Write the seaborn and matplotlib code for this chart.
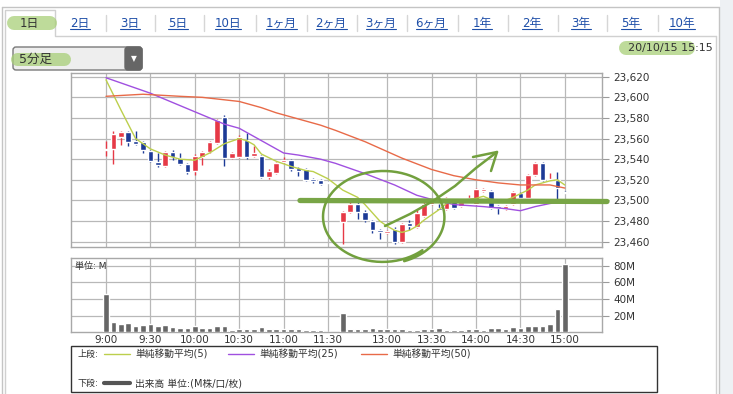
import numpy as np
import pandas as pd
import seaborn as sns
import matplotlib.pyplot as plt
from matplotlib.patches import Rectangle, FancyBboxPatch
from matplotlib.ticker import FuncFormatter

# 5分足 slots: 0 = 9:00 ... 30 = 11:30, (31 = lunch gap), 32 = 12:30 ... 62 = 15:00
slots = list(range(0, 31)) + list(range(32, 63))

opens = [23549, 23550, 23562, 23566, 23558, 23557, 23548, 23537, 23533, 23547,
         23541, 23535, 23529, 23542, 23547, 23556, 23581, 23541, 23542, 23559,
         23543, 23543, 23523, 23527, 23537, 23539, 23531, 23530, 23521, 23520, 23517,
         23479, 23489, 23497, 23489, 23480, 23471, 23468, 23472, 23460, 23478,
         23474, 23485, 23497, 23493, 23492, 23499, 23495, 23500, 23497, 23509,
         23509, 23495, 23492, 23497, 23507, 23502, 23525, 23536, 23520, 23520, 23508]
highs = [23558, 23567, 23567, 23567, 23567, 23558, 23549, 23546, 23548, 23549,
         23546, 23536, 23545, 23548, 23558, 23579, 23583, 23547, 23563, 23565,
         23553, 23544, 23530, 23537, 23542, 23540, 23532, 23531, 23522, 23521, 23518,
         23490, 23498, 23498, 23491, 23481, 23472, 23471, 23474, 23478, 23481,
         23491, 23498, 23501, 23497, 23503, 23500, 23499, 23505, 23512, 23512,
         23510, 23496, 23496, 23509, 23508, 23526, 23537, 23537, 23527, 23528, 23509]
lows = [23543, 23535, 23554, 23553, 23554, 23546, 23537, 23532, 23532, 23539,
        23534, 23526, 23525, 23534, 23546, 23555, 23533, 23540, 23541, 23540,
        23542, 23522, 23521, 23526, 23536, 23529, 23524, 23519, 23517, 23515, 23517,
        23458, 23488, 23482, 23479, 23468, 23463, 23467, 23458, 23459, 23471,
        23473, 23484, 23496, 23491, 23491, 23492, 23494, 23499, 23496, 23508,
        23492, 23487, 23491, 23496, 23501, 23501, 23524, 23519, 23520, 23500, 23507]
closes = [23550, 23564, 23566, 23557, 23555, 23549, 23538, 23534, 23547, 23542,
          23535, 23528, 23543, 23547, 23557, 23578, 23541, 23546, 23562, 23542,
          23546, 23523, 23529, 23536, 23539, 23530, 23529, 23520, 23519, 23516, 23518,
          23489, 23497, 23489, 23481, 23471, 23469, 23470, 23460, 23477, 23475,
          23488, 23497, 23500, 23491, 23502, 23493, 23498, 23502, 23511, 23511,
          23493, 23493, 23495, 23508, 23502, 23525, 23536, 23520, 23521, 23512, 23507]
volumes = [45.6, 12.4, 10, 10.8, 7.6, 8.8, 10, 7.6, 8.8, 6,
           5.2, 5.2, 7.6, 5.2, 5.2, 7.6, 7.6, 2.8, 4, 4,
           4, 6.4, 4, 4, 4, 4, 4, 3.2, 2.8, 2.8, 0.4,
           22.8, 4.4, 4.4, 4.4, 5.6, 4.4, 4, 4.4, 4.4, 2.8,
           2.8, 3.6, 3.6, 4.8, 2.8, 2.8, 2.8, 3.6, 3.6, 2.8,
           4.8, 4.8, 4, 6, 5.2, 7.2, 7.2, 7.2, 9.6, 28.3, 81.6]

ma5_slots = [0, 2, 4, 6, 8, 10, 12, 14, 16, 18, 19, 20, 21, 23, 25, 27, 28, 30,
             32, 34, 35, 37, 38, 39, 40, 41, 42, 43, 45, 46, 48, 50, 51, 52, 54,
             55, 57, 58, 60, 61, 62]
ma5_vals = [23617, 23588, 23560, 23550, 23544, 23540, 23539, 23546, 23555, 23560,
            23558, 23554, 23545, 23538, 23533, 23529, 23528, 23521, 23510, 23503,
            23496, 23480, 23475, 23471, 23469, 23471, 23475, 23481, 23491, 23497,
            23500, 23502, 23504, 23501, 23500, 23503, 23510, 23515, 23519, 23520, 23515]
ma25_slots = [0, 6, 12, 16, 18, 19, 21, 24, 26, 29, 31, 35, 39, 42, 44, 47, 51,
              54, 56, 58, 60, 62]
ma25_vals = [23619, 23604, 23586, 23574, 23570, 23566, 23558, 23546, 23544, 23540,
             23536, 23526, 23515, 23505, 23501, 23496, 23494, 23492, 23490, 23494,
             23497, 23499]
ma50_slots = [0, 5, 10, 13, 18, 21, 23, 26, 29, 31, 35, 40, 44, 47, 50, 53, 56,
              58, 60, 62]
ma50_vals = [23601, 23603, 23601, 23600, 23596, 23590, 23585, 23579, 23573, 23568,
             23557, 23541, 23530, 23524, 23520, 23517, 23515, 23515, 23515, 23512]

time_slots = [0, 6, 12, 18, 24, 30, 38, 44, 50, 56, 62]
time_labels = ['9:00', '9:30', '10:00', '10:30', '11:00', '11:30',
               '13:00', '13:30', '14:00', '14:30', '15:00']
price_ticks = [23460, 23480, 23500, 23520, 23540, 23560, 23580, 23600, 23620]
vol_ticks = [20, 40, 60, 80]

tabs = ['1日', '2日', '3日', '5日', '10日', '1ヶ月', '2ヶ月', '3ヶ月', '6ヶ月',
        '1年', '2年', '3年', '5年', '10年']
tab_x = [29, 80, 130, 178, 228, 281, 331, 381, 431, 482, 532, 581, 631, 682]

RED, BLUE = '#e63946', '#1c3a96'
C_MA5, C_MA25, C_MA50 = '#bccf4c', '#a050e0', '#e86a48'
GREEN = '#72a03e'
MARKER = '#a8cf78'

sns.set_style('white')
plt.rcParams['font.family'] = ['DejaVu Sans', 'Noto Sans CJK JP']

W, H = 733, 394
fig = plt.figure(figsize=(W / 100, H / 100), dpi=100)


def px_axes(x0, y0, x1, y1, **kw):
    return fig.add_axes([x0 / W, 1 - y1 / H, (x1 - x0) / W, (y1 - y0) / H], **kw)


# background / page chrome
bg = px_axes(0, 0, W, H)
bg.set_xlim(0, W)
bg.set_ylim(H, 0)
bg.axis('off')
bg.add_patch(Rectangle((720, 0), 13, H, fc='#eef1f4', ec='none'))
frame = '#c4c4c4'
bg.plot([2, 719], [7, 7], color=frame, lw=1)
bg.plot([2, 2], [7, H], color=frame, lw=1)
bg.plot([719, 719], [7, H], color=frame, lw=1)
# selected tab outline
bg.plot([5, 5, 55, 55, 716], [H, 10, 10, 36, 36], color='#d0d0d0', lw=1)
bg.plot([716, 716], [36, H], color='#d0d0d0', lw=1)

# marker highlights (under the text)
for (x0, x1, yc, hh) in [(14, 50, 22.5, 14), (17, 64, 59, 13), (626, 688, 48, 14)]:
    bg.plot([x0, x1], [yc, yc], color=MARKER, lw=hh * 0.72, alpha=0.75,
            solid_capstyle='round', zorder=2.5)

tab_texts = []
for i, (lab, x) in enumerate(zip(tabs, tab_x)):
    t = bg.text(x, 23, lab, ha='center', va='center', fontsize=8.5,
                color='#333333' if i == 0 else '#1f4fa8', zorder=4)
    tab_texts.append(t)
    if i > 1:
        sep = (tab_x[i - 1] + x) / 2 + 1
        bg.plot([sep, sep], [15, 31], color='#d6d6d6', lw=1)

# dropdown
bg.add_patch(FancyBboxPatch((13, 47), 129, 23, boxstyle='round,pad=0,rounding_size=3',
                            fc='#eeeeee', ec='#7a7a7a', lw=1, zorder=2))
bg.add_patch(FancyBboxPatch((125, 47), 17, 23, boxstyle='round,pad=0,rounding_size=3',
                            fc='#666666', ec='#666666', lw=1, zorder=2))
bg.text(133.5, 58.5, '▼', ha='center', va='center', fontsize=5.5, color='white', zorder=4)
bg.text(19, 59, '5分足', ha='left', va='center', fontsize=9, color='#333333', zorder=4)
bg.text(713, 48, '20/10/15 15:15', ha='right', va='center', fontsize=8, color='#333333',
        zorder=4)

# legend
bg.add_patch(Rectangle((71, 346), 586, 46, fill=False, ec='#333333', lw=1))
bg.text(77, 354, '上段:', va='center', fontsize=6.5, color='#333333')
for x0, col, lab in [(104, C_MA5, '単純移動平均(5)'), (228, C_MA25, '単純移動平均(25)'),
                     (361, C_MA50, '単純移動平均(50)')]:
    bg.plot([x0, x0 + 26], [354, 354], color=col, lw=1)
    bg.text(x0 + 31, 354, lab, va='center', fontsize=7, color='#333333')
bg.text(77, 383, '下段:', va='center', fontsize=6.5, color='#333333')
bg.plot([104, 130], [383, 383], color='#555555', lw=3)
bg.text(135, 383, '出来高 単位:(M株/口/枚)', va='center', fontsize=7, color='#333333')

# price chart
ax1 = px_axes(71, 72.7, 602, 246.7)
ax2 = px_axes(71, 258.3, 602, 332.3)

df = pd.DataFrame({'slot': slots, 'open': opens, 'high': highs, 'low': lows,
                   'close': closes, 'volume': volumes})
df['color'] = np.where(df['close'] >= df['open'], RED, BLUE)
df['body_lo'] = df[['open', 'close']].min(axis=1)
df['body_h'] = (df['close'] - df['open']).abs().clip(lower=0.9)

ax1.vlines(df['slot'], df['low'], df['high'], colors=df['color'], lw=1, zorder=3)
ax1.bar(df['slot'], df['body_h'], bottom=df['body_lo'], width=0.76, color=df['color'],
        zorder=3)

sns.lineplot(x=ma5_slots, y=ma5_vals, ax=ax1, color=C_MA5, lw=1, zorder=4)
sns.lineplot(x=ma25_slots, y=ma25_vals, ax=ax1, color=C_MA25, lw=1, zorder=4)
sns.lineplot(x=ma50_slots, y=ma50_vals, ax=ax1, color=C_MA50, lw=1, zorder=4)

xlim = (-4.73, 67.03)
for ax in (ax1, ax2):
    ax.set_xlim(*xlim)
    ax.set_xticks(time_slots)
    ax.grid(True, color='#b8b8b8', lw=0.9, zorder=0)
    ax.set_axisbelow(True)
    ax.yaxis.tick_right()
    ax.tick_params(axis='y', length=5, width=0.8, color='#9a9a9a', labelsize=7.5,
                   labelcolor='#333333', pad=3)
    for sp in ax.spines.values():
        sp.set_color('#a8a8a8')
        sp.set_linewidth(1)
    ax.set_xlabel('')
    ax.set_ylabel('')

ax1.set_ylim(23455.1, 23623.9)
ax1.set_yticks(price_ticks)
ax1.yaxis.set_major_formatter(FuncFormatter(lambda v, p: f'{v:,.0f}'))
ax1.tick_params(axis='x', length=0, labelbottom=False)

# volume chart
ax2.bar(df['slot'], df['volume'], width=0.76, color='#666666', zorder=3)
ax2.set_ylim(0, 88.8)
ax2.set_yticks(vol_ticks)
ax2.yaxis.set_major_formatter(FuncFormatter(lambda v, p: f'{v:.0f}M'))
ax2.set_xticklabels(time_labels)
ax2.tick_params(axis='x', length=0, labelsize=7.5, labelcolor='#333333', pad=2)
ax2.text(0.008, 0.95, '単位: M', transform=ax2.transAxes, va='top', fontsize=6.5,
         color='#333333')

# tab underlines
fig.canvas.draw()
rend = fig.canvas.get_renderer()
inv = bg.transData.inverted()
for t in tab_texts[1:]:
    bb = t.get_window_extent(rend)
    (x0, y0), (x1, y1) = inv.transform([(bb.x0, bb.y0), (bb.x1, bb.y1)])
    bg.plot([x0, x1], [y0 - 1, y0 - 1], color='#1f4fa8', lw=0.8)

# hand-drawn green marks on top
ann = px_axes(0, 0, W, H, zorder=10)
ann.set_xlim(0, W)
ann.set_ylim(H, 0)
ann.axis('off')
ann.patch.set_alpha(0)

ann.plot([300, 607], [200.5, 201.5], color='#78a546', lw=3.8, solid_capstyle='round')

th = np.linspace(np.deg2rad(-70), np.deg2rad(312), 240)
rr = 1 - 0.05 * (th - th[0]) / (th[-1] - th[0])
ann.plot(383 + 62 * rr * np.cos(th), 217 - 47 * rr * np.sin(th), color=GREEN, lw=1.8,
         solid_capstyle='round')

arrow_x = [385, 410, 433, 455, 476, 497]
arrow_y = [226, 214, 201, 186, 168, 152]
ann.plot(arrow_x, arrow_y, color=GREEN, lw=1.8, solid_capstyle='round')
ann.plot([473, 497, 491], [157, 152, 171], color=GREEN, lw=1.8,
         solid_capstyle='round', solid_joinstyle='round')

fig.savefig('out.png', dpi=100)
